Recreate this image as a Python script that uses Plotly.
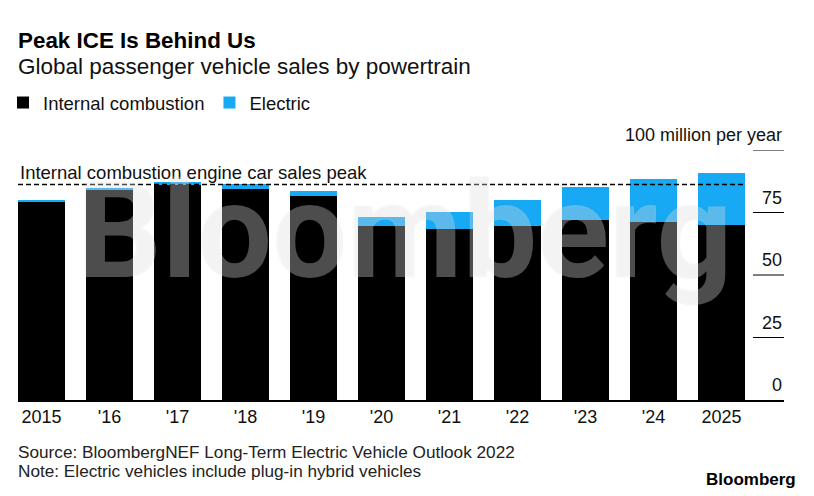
import plotly.graph_objects as go

# ---- data (million vehicles per year) ----
years = ["2015", "'16", "'17", "'18", "'19", "'20", "'21", "'22", "'23", "'24", "2025"]
ice = [79.4, 84.0, 86.2, 84.5, 81.6, 69.7, 68.4, 69.6, 72.0, 71.3, 70.0]
ev = [0.5, 0.7, 0.9, 1.8, 2.0, 3.4, 6.7, 10.4, 13.3, 17.0, 20.7]
ytick_vals = [0, 25, 50, 75, 100]
ytick_text = ["0", "25", "50", "75", "100 million per year"]

W, H = 814, 496
L, R, T, B = 18, 30, 150, 96
PW, PH = W - L - R, H - T - B

def px(p):  # pixel x -> paper
    return (p - L) / PW

def py(p):  # pixel y (from top) -> paper
    return (H - B - p) / PH

FONT = "Liberation Sans, Arial, Helvetica, sans-serif"
BLUE = "#17a9f3"

xs = list(range(len(years)))
fig = go.Figure()
fig.add_trace(go.Bar(x=xs, y=ice, name="Internal combustion", marker=dict(color="#000000", line=dict(width=0)),
                     width=0.69, hoverinfo="skip"))
fig.add_trace(go.Bar(x=xs, y=ev, name="Electric", marker=dict(color=BLUE, line=dict(width=0)),
                     width=0.69, hoverinfo="skip"))

peak = max(ice)
shapes = [dict(type="line", xref="x", yref="y", x0=-0.345, x1=len(years) - 1 + 0.345, y0=peak, y1=peak,
               line=dict(color="black", width=1.5, dash="5px,3px"), layer="above")]
annotations = []
for v, t in zip(ytick_vals, ytick_text):
    if v > 0:
        shapes.append(dict(type="line", xref="paper", yref="y", x0=px(753), x1=1, y0=v, y1=v,
                           line=dict(color="black", width=1)))
    annotations.append(dict(x=1, y=v, xref="paper", yref="y", xanchor="right", yanchor="bottom", yshift=3,
                            text=t, showarrow=False, font=dict(size=18, color="#111")))

annotations.append(dict(x=0, y=peak, xref="paper", yref="y", xanchor="left", yanchor="bottom", yshift=0,
                        text="Internal combustion engine car sales peak", showarrow=False,
                        font=dict(size=18.5, color="#111")))
# watermark
annotations.append(dict(x=px(405), y=py(231), xref="paper", yref="paper", xanchor="center", yanchor="middle",
                        text="Bloomberg", showarrow=False,
                        font=dict(size=133, color="rgba(255,255,255,0.3)", family="Roboto, " + FONT,
                                  weight=700, shadow="0px 0px 1.5px rgba(0,0,0,0.22)")))
# titles
annotations.append(dict(x=px(16), y=py(40), xref="paper", yref="paper", xanchor="left", yanchor="middle",
                        text="<b>Peak ICE Is Behind Us</b>", showarrow=False, font=dict(size=22.4, color="#000")))
annotations.append(dict(x=px(16), y=py(67), xref="paper", yref="paper", xanchor="left", yanchor="middle",
                        text="Global passenger vehicle sales by powertrain", showarrow=False,
                        font=dict(size=22.5, color="#111")))
annotations.append(dict(x=px(16), y=py(452), xref="paper", yref="paper", xanchor="left", yanchor="middle",
                        text="Source: BloombergNEF Long-Term Electric Vehicle Outlook 2022", showarrow=False,
                        font=dict(size=17.2, color="#222")))
annotations.append(dict(x=px(16), y=py(471), xref="paper", yref="paper", xanchor="left", yanchor="middle",
                        text="Note: Electric vehicles include plug-in hybrid vehicles", showarrow=False,
                        font=dict(size=17.2, color="#222")))
annotations.append(dict(x=px(798), y=py(479), xref="paper", yref="paper", xanchor="right", yanchor="middle",
                        text="<b>Bloomberg</b>", showarrow=False, font=dict(size=17, color="#000")))

fig.update_layout(
    width=W, height=H, margin=dict(l=L, r=R, t=T, b=B, pad=0, autoexpand=False),
    paper_bgcolor="white", plot_bgcolor="white",
    barmode="stack", bargap=0.31,
    font=dict(family=FONT, color="#111", size=18),
    showlegend=True,
    legend=dict(orientation="h", xref="container", yref="container", x=3 / W, y=1 - 103 / H,
                xanchor="left", yanchor="middle",
                font=dict(size=18.5, color="#111"), bgcolor="rgba(0,0,0,0)", traceorder="normal",
                itemclick=False, itemdoubleclick=False),
    xaxis=dict(range=[-0.345, 10.92], tickmode="array", tickvals=xs, ticktext=years,
               showline=True, linecolor="black", linewidth=1.5, ticks="", showgrid=False, zeroline=False,
               tickfont=dict(size=18, color="#111"), fixedrange=True),
    yaxis=dict(range=[0, 100], visible=False, fixedrange=True),
    shapes=shapes, annotations=annotations,
)
fig.write_html("out.html", config={"displayModeBar": False},
               post_script="document.body.style.margin='0';document.body.style.overflow='hidden';")
